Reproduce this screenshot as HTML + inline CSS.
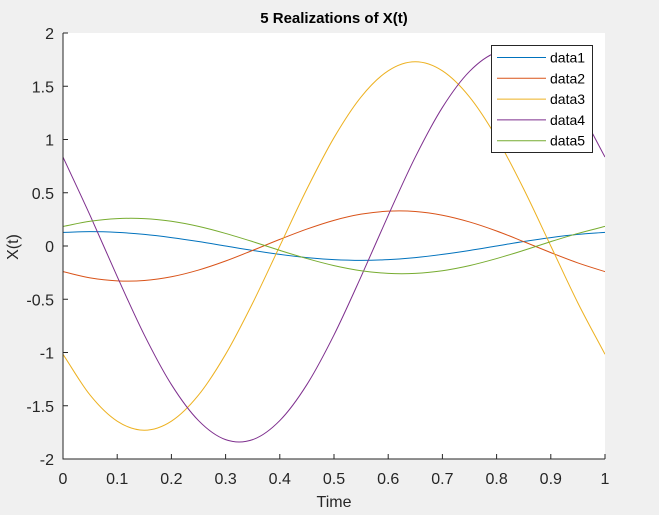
<!DOCTYPE html>
<html><head><meta charset="utf-8"><style>
body{margin:0;background:#f0f0f0;}
svg{display:block;font-family:"Liberation Sans",sans-serif;}
</style></head><body>
<svg id="chart" width="659" height="515">
<rect x="0" y="0" width="659" height="515" fill="#f0f0f0"/>
<rect x="63" y="33" width="542" height="426" fill="#fff"/>
<clipPath id="clip"><rect x="63" y="33" width="542" height="426"/></clipPath>
<g id="series" clip-path="url(#clip)"></g>
<g id="grid"></g>
<line x1="63" y1="33" x2="63" y2="459.5" stroke="#262626"/>
<line x1="62.5" y1="459" x2="605" y2="459" stroke="#262626"/>
<text x="334" y="23" text-anchor="middle" font-size="15" font-weight="bold" fill="#000">5 Realizations of X(t)</text>
<text x="334" y="507" text-anchor="middle" font-size="16" fill="#262626">Time</text>
<text x="18" y="247" text-anchor="middle" font-size="16" fill="#262626" transform="rotate(-90 18 247)">X(t)</text>
<g id="legend"></g>
</svg>
<script>
const tVals=[0,0.05,0.1,0.15,0.2,0.25,0.3,0.35,0.4,0.45,0.5,0.55,0.6,0.65,0.7,0.75,0.8,0.85,0.9,0.95,1];
const data1=[0.128,0.135,0.128,0.109,0.079,0.042,0,-0.042,-0.079,-0.109,-0.128,-0.135,-0.128,-0.109,-0.079,-0.042,0,0.042,0.079,0.109,0.128];
const data2=[-0.241,-0.299,-0.327,-0.324,-0.289,-0.226,-0.141,-0.041,0.062,0.159,0.241,0.299,0.327,0.324,0.289,0.226,0.141,0.041,-0.062,-0.159,-0.241];
const data3=[-1.017,-1.4,-1.645,-1.73,-1.645,-1.4,-1.017,-0.535,0,0.535,1.017,1.4,1.645,1.73,1.645,1.4,1.017,0.535,0,-0.535,-1.017];
const data4=[0.835,0.287,-0.287,-0.835,-1.301,-1.639,-1.818,-1.818,-1.639,-1.301,-0.835,-0.287,0.287,0.835,1.301,1.639,1.818,1.818,1.639,1.301,0.835];
const data5=[0.184,0.232,0.257,0.257,0.232,0.184,0.118,0.041,-0.041,-0.118,-0.184,-0.232,-0.257,-0.257,-0.232,-0.184,-0.118,-0.041,0.041,0.118,0.184];
const seriesNames=["data1","data2","data3","data4","data5"];
const xTicks=[0,0.1,0.2,0.3,0.4,0.5,0.6,0.7,0.8,0.9,1];
const yTicks=[-2,-1.5,-1,-0.5,0,0.5,1,1.5,2];
const colors=["#0072BD","#D95319","#EDB120","#7E2F8E","#77AC30"];
const NS="http://www.w3.org/2000/svg";
const X=v=>63+v*542, Y=v=>246-v*106.5;
const g=document.getElementById('grid');
function mk(tag,attrs,parent){const e=document.createElementNS(NS,tag);for(const k in attrs)e.setAttribute(k,attrs[k]);parent.appendChild(e);return e;}
xTicks.forEach(v=>{
  const l=mk('line',{x1:X(v),x2:X(v),y1:459,y2:454,stroke:'#262626'},g);
  
  
  const t=mk('text',{x:X(v),y:484,'text-anchor':'middle','font-size':16,fill:'#262626'},g);
  t.textContent=String(v);
  
  
});
yTicks.forEach(v=>{
  const l=mk('line',{x1:63,x2:68,y1:Y(v),y2:Y(v),stroke:'#262626'},g);
  
  
  const t=mk('text',{x:54,y:Y(v)+6,'text-anchor':'end','font-size':16,fill:'#262626'},g);
  t.textContent=String(v);
  
  
});
const all=[data1,data2,data3,data4,data5];
const sg=document.getElementById('series');
all.forEach((arr,i)=>{
  const p=tVals.map((t,k)=>[X(t),Y(arr[k])]);
  const n=p.length;
  const ext=[[2*p[0][0]-p[1][0],2*p[0][1]-p[1][1]],...p,[2*p[n-1][0]-p[n-2][0],2*p[n-1][1]-p[n-2][1]]];
  let d='M'+p[0][0]+','+p[0][1];
  for(let k=1;k<ext.length-2;k++){
    const p0=ext[k-1],p1=ext[k],p2=ext[k+1],p3=ext[k+2];
    d+=' C'+(p1[0]+(p2[0]-p0[0])/6)+','+(p1[1]+(p2[1]-p0[1])/6)+' '+(p2[0]-(p3[0]-p1[0])/6)+','+(p2[1]-(p3[1]-p1[1])/6)+' '+p2[0]+','+p2[1];
  }
  const path=mk('path',{d:d,fill:'none',stroke:colors[i],'stroke-width':1},sg);
  
  
});
const lg=document.getElementById('legend');
const box=mk('rect',{x:491.5,y:45.5,width:101,height:107,fill:'#fff',stroke:'#262626'},lg);


seriesNames.forEach((n,i)=>{
  const y=57.5+i*20.8;
  const l=mk('line',{x1:497,x2:546,y1:y,y2:y,stroke:colors[i]},lg);
  
  
  const t=mk('text',{x:550,y:y+5,'font-size':14,fill:'#000'},lg);
  t.textContent=n;
  
  
});
</script>
</body></html>
